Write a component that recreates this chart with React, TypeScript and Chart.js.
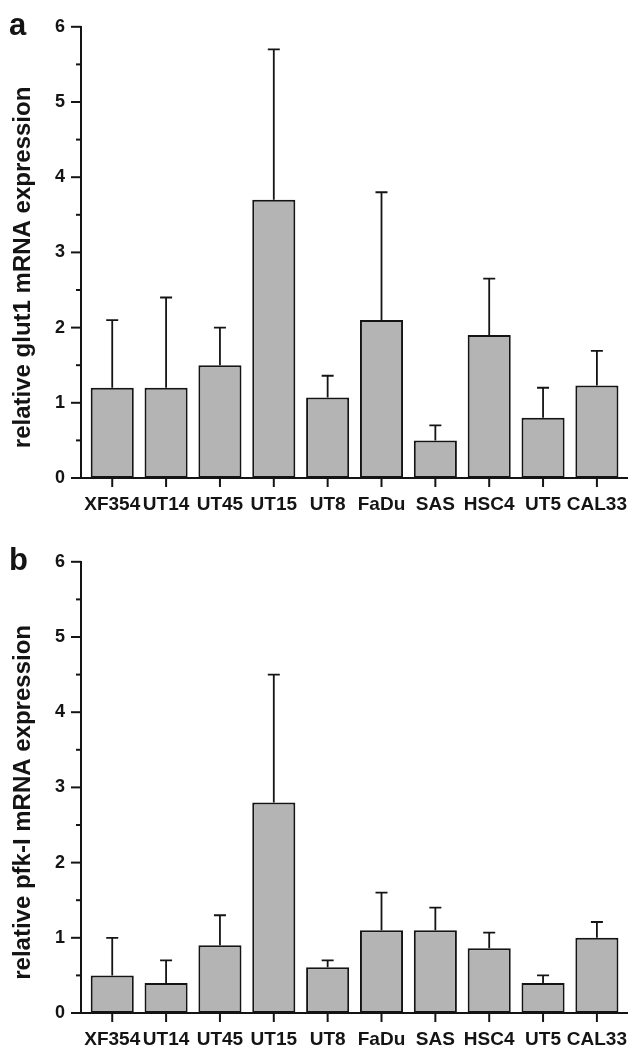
import React, { useEffect, useRef } from "react";
import { Chart, registerables } from "chart.js";

Chart.register(...registerables);

// ---- data ----
const cellLines = ["XF354", "UT14", "UT45", "UT15", "UT8", "FaDu", "SAS", "HSC4", "UT5", "CAL33"];
const glut1Means = [1.2, 1.2, 1.5, 3.7, 1.07, 2.1, 0.5, 1.9, 0.8, 1.23];
const glut1Errors = [0.9, 1.2, 0.5, 2.0, 0.29, 1.7, 0.2, 0.75, 0.4, 0.46];
const pfkMeans = [0.5, 0.4, 0.9, 2.8, 0.61, 1.1, 1.1, 0.86, 0.4, 1.0];
const pfkErrors = [0.5, 0.3, 0.4, 1.7, 0.09, 0.5, 0.3, 0.21, 0.1, 0.21];
const yTickValues = [0, 1, 2, 3, 4, 5, 6];

const FONT = "'Liberation Sans', Arial, Helvetica, sans-serif";
const INK = "#141414";
const BAR_FILL = "#b4b4b4";

type PanelProps = {
  letter: string;
  title: string;
  means: number[];
  errors: number[];
  height: number;
};

function Panel({ letter, title, means, errors, height }: PanelProps) {
  const ref = useRef<HTMLCanvasElement | null>(null);

  useEffect(() => {
    if (!ref.current) return;
    const decor = {
      id: "decor" + letter,
      afterDatasetsDraw(chart: any) {
        const ctx = chart.ctx;
        const meta = chart.getDatasetMeta(0);
        const y = chart.scales.y;
        ctx.save();
        ctx.strokeStyle = INK;
        ctx.lineWidth = 1.8;
        meta.data.forEach((bar: any, i: number) => {
          const top = y.getPixelForValue(means[i] + errors[i]);
          ctx.beginPath();
          ctx.moveTo(bar.x, bar.y);
          ctx.lineTo(bar.x, top);
          ctx.moveTo(bar.x - 6, top);
          ctx.lineTo(bar.x + 6, top);
          ctx.stroke();
        });
        ctx.restore();
      },
      afterDraw(chart: any) {
        const ctx = chart.ctx;
        const { left, top, bottom } = chart.chartArea;
        const y = chart.scales.y;
        const x = chart.scales.x;
        ctx.save();
        ctx.strokeStyle = INK;
        ctx.lineWidth = 2;
        // y ticks: major at labelled values, minor halfway
        yTickValues.forEach((v, k) => {
          const py = y.getPixelForValue(v);
          ctx.beginPath();
          ctx.moveTo(left - 10, py);
          ctx.lineTo(left, py);
          ctx.stroke();
          if (k < yTickValues.length - 1) {
            const pm = y.getPixelForValue((v + yTickValues[k + 1]) / 2);
            ctx.beginPath();
            ctx.moveTo(left - 5, pm);
            ctx.lineTo(left, pm);
            ctx.stroke();
          }
        });
        // x ticks
        cellLines.forEach((_, i) => {
          const px = x.getPixelForValue(i);
          ctx.beginPath();
          ctx.moveTo(px, bottom);
          ctx.lineTo(px, bottom + 9);
          ctx.stroke();
        });
        // y title
        ctx.fillStyle = INK;
        ctx.font = `bold 24px ${FONT}`;
        ctx.textAlign = "center";
        ctx.textBaseline = "middle";
        ctx.translate(23, (top + bottom) / 2 + 15);
        ctx.rotate(-Math.PI / 2);
        ctx.fillText(title, 0, 0);
        ctx.restore();
        // panel letter
        ctx.save();
        ctx.fillStyle = INK;
        ctx.font = `bold 31px ${FONT}`;
        ctx.textAlign = "left";
        ctx.textBaseline = "alphabetic";
        ctx.fillText(letter, 9, top + 8);
        ctx.restore();
      },
    };

    const chart = new Chart(ref.current, {
      type: "bar",
      data: {
        datasets: [
          {
            data: means.map((v, i) => ({ x: i, y: v })),
            backgroundColor: BAR_FILL,
            borderColor: INK,
            borderWidth: 2,
            borderSkipped: false,
            barPercentage: 0.8,
            categoryPercentage: 1,
          },
        ],
      },
      options: {
        responsive: false,
        animation: false,
        events: [],
        layout: { padding: { top: 24, left: 0, right: 0, bottom: 0 } },
        plugins: { legend: { display: false }, tooltip: { enabled: false }, title: { display: false } },
        scales: {
          x: {
            type: "linear",
            offset: false,
            min: -0.58,
            max: 9.56,
            grid: { display: false, drawTicks: false, offset: false },
            border: { display: true, color: INK, width: 2 },
            ticks: {
              stepSize: 1,
              includeBounds: false,
              autoSkip: false,
              maxRotation: 0,
              padding: 15,
              color: INK,
              font: { family: FONT, size: 19, weight: "bold" },
              callback: (v: any) => (Number.isInteger(v) && cellLines[v] !== undefined ? cellLines[v] : ""),
            },
            afterFit: (scale: any) => {
              scale.height = height - 478;
            },
          },
          y: {
            min: 0,
            max: 6,
            grid: { display: false, drawTicks: false },
            border: { display: true, color: INK, width: 2 },
            ticks: {
              stepSize: 1,
              padding: 16,
              color: INK,
              font: { family: FONT, size: 18, weight: "bold" },
              callback: (v: any) => (yTickValues.includes(v) ? String(v) : ""),
            },
            afterFit: (scale: any) => {
              scale.width = 81;
            },
          },
        },
      },
      plugins: [decor],
    } as any);
    return () => chart.destroy();
  }, []);

  return <canvas ref={ref} width={642} height={height} style={{ display: "block" }} />;
}

export default function App() {
  return (
    <div style={{ position: "absolute", left: 0, top: 0, width: 642, height: 1046, background: "#fff" }}>
      <Panel letter="a" title="relative glut1 mRNA expression" means={glut1Means} errors={glut1Errors} height={535} />
      <Panel letter="b" title="relative pfk-I mRNA expression" means={pfkMeans} errors={pfkErrors} height={511} />
    </div>
  );
}
